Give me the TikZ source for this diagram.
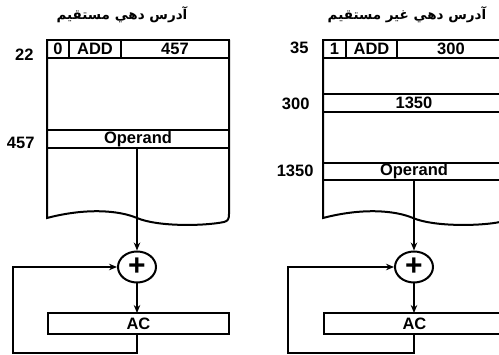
\documentclass[tikz,border=0pt]{standalone}
\usepackage{fontspec}
\setmainfont{Liberation Sans}
\newfontfamily\arabicfont[Script=Arabic]{DejaVu Sans}
\TeXXeTstate=1
\usetikzlibrary{arrows.meta, positioning, shapes.geometric}

\tikzset{
  cell/.style={draw, line width=2pt, inner sep=0pt, outer sep=0pt, minimum height=18pt,
    font=\fontsize{16.5}{16.5}\selectfont\bfseries},
  wall/.style={line width=2pt},
  flow/.style={line width=1.4pt, -{Stealth[length=8pt,width=6.5pt]}},
  feedback/.style={line width=2pt, -{Stealth[length=8pt,width=6.5pt]}},
  adder/.style={draw, ellipse, line width=2pt, minimum width=38pt, minimum height=31pt,
    inner sep=0pt, font=\fontsize{30}{30}\selectfont\bfseries},
  addr/.style={anchor=east, font=\fontsize{16.5}{16.5}\selectfont\bfseries},
  heading/.style={font=\arabicfont\fontsize{13.5}{13.5}\selectfont\bfseries}
}

\begin{document}
\begin{tikzpicture}[x=1pt, y=-1pt]
  \useasboundingbox (0,0) rectangle (499,355);
  \clip (0,0) rectangle (499,355);

  % Direct addressing
  \node[heading] (dtitle) at (122,15) {\beginR آدرس دهي مستقيم\endR};
  \node[cell, minimum width=22pt] (dmode) at (58,49) {0};
  \node[cell, minimum width=52pt, right=0pt of dmode] (dop) {ADD};
  \node[cell, minimum width=108pt, right=0pt of dop] (dadr) {457};
  \node[cell, minimum width=182pt] (dopnd) at (138,139) {Operand};
  \node[addr] (d22) at (37,55) {22};
  \node[addr] (d457) at (38,143) {457};
  \draw[wall] (dmode.north west) -- (47,218)
    .. controls (85,208) and (118,210) .. (137,218)
    .. controls (158,227) and (205,226) .. (224,222)
    .. controls (228,221) and (229,219) .. (229,214) -- (dadr.north east);
  \node[adder] (dsum) at (137,267) {+};
  \node[cell, minimum width=181pt, minimum height=21pt] (dacc) at (138.5,323.5) {AC};
  \coordinate (dturn) at (13,353);
  \draw[flow] (dsum |- dopnd.south) -- (dsum.north);
  \draw[flow] (dsum.south) -- (dsum |- dacc.north);
  \draw[feedback] (dsum |- dacc.south) |- (dturn) |- (dsum.west);

  % Indirect addressing
  \node[heading] (ititle) at (407,15) {\beginR آدرس دهي غير مستقيم\endR};
  \node[cell, minimum width=23pt] (imode) at (334.5,49) {1};
  \node[cell, minimum width=51pt, right=0pt of imode] (iop) {ADD};
  \node[cell, minimum width=108pt, right=0pt of iop] (iadr) {300};
  \node[cell, minimum width=182pt] (iptr) at (414,103) {1350};
  \node[cell, minimum width=182pt, minimum height=17pt] (iopnd) at (414,171.5) {Operand};
  \node[addr] (i35) at (312,48) {35};
  \node[addr] (i300) at (313,104) {300};
  \node[addr] (i1350) at (317,171) {1350};
  \draw[wall] (imode.north west) -- (323,218)
    .. controls (361,208) and (394,210) .. (413,218)
    .. controls (434,227) and (481,226) .. (500,222)
    .. controls (504,221) and (505,219) .. (505,214) -- (iadr.north east);
  \node[adder] (isum) at (414,267) {+};
  \node[cell, minimum width=181pt, minimum height=21pt] (iacc) at (414.5,323.5) {AC};
  \coordinate (iturn) at (288,353);
  \draw[flow] (isum |- iopnd.south) -- (isum.north);
  \draw[flow] (isum.south) -- (isum |- iacc.north);
  \draw[feedback] (isum |- iacc.south) |- (iturn) |- (isum.west);
\end{tikzpicture}
\end{document}
